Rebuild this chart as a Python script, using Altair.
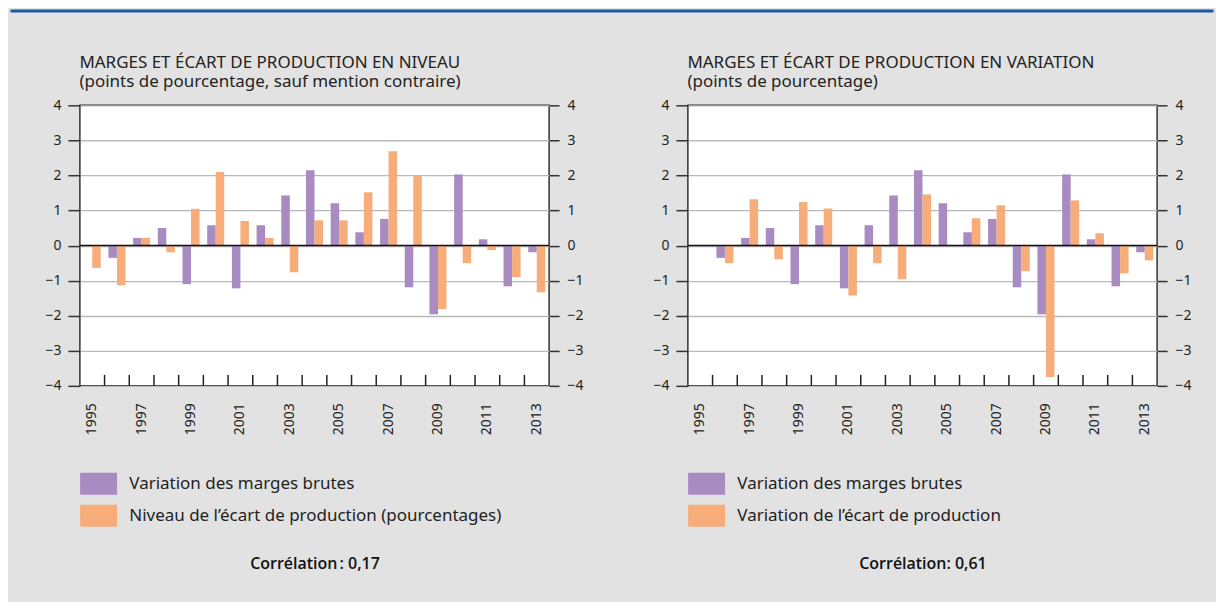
import altair as alt
import pandas as pd

# ---------------- data ----------------
years = [str(y) for y in range(1995, 2014)]
label_years = [str(y) for y in range(1995, 2014, 2)]

marges = [None, -0.35, 0.22, 0.50, -1.10, 0.58, -1.22, 0.58, 1.43, 2.15,
          1.21, 0.38, 0.76, -1.19, -1.96, 2.03, 0.18, -1.16, -0.19]
ecart_niveau = [-0.64, -1.13, 0.22, -0.19, 1.05, 2.10, 0.70, 0.22, -0.76, 0.72,
                0.72, 1.52, 2.69, 1.99, -1.81, -0.50, -0.13, -0.90, -1.33]
ecart_variation = [None, -0.50, 1.32, -0.39, 1.24, 1.06, -1.42, -0.50, -0.96, 1.46,
                   0.0, 0.78, 1.15, -0.73, -3.75, 1.29, 0.35, -0.79, -0.42]

S1 = "Variation des marges brutes"
S2_left = "Niveau de l\u2019écart de production (pourcentages)"
S2_right = "Variation de l\u2019écart de production"

title_left = ["MARGES ET ÉCART DE PRODUCTION EN NIVEAU",
              "(points de pourcentage, sauf mention contraire)"]
title_right = ["MARGES ET ÉCART DE PRODUCTION EN VARIATION",
               "(points de pourcentage)"]
corr_left = "Corrélation\u202f: 0,17"
corr_right = "Corrélation: 0,61"

y_ticks = [-4, -3, -2, -1, 0, 1, 2, 3, 4]

# ---------------- style ----------------
PURPLE = "#a88bc1"
ORANGE = "#f6ad7a"
BG = "#e2e2e2"
BLUE = "#1c5aa0"
INK = "#222222"
FONT = "Noto Sans"
W, H = 470, 281
CANVAS_W, CANVAS_H = 1208, 592
PLOT_LEFT, PLOT_TOP = 71, 96


def make_df(vals2, name2):
    rows = []
    for y, a, b in zip(years, marges, vals2):
        if a is not None:
            rows.append({"year": y, "series": S1, "value": a})
        if b is not None:
            rows.append({"year": y, "series": name2, "value": b})
    return pd.DataFrame(rows)


def panel(vals2, name2, title, corr, with_deco=False):
    df = make_df(vals2, name2)
    x_axis = alt.Axis(values=label_years, labelAngle=270, ticks=False, domain=False,
                      labelPadding=17, labelFontSize=14, labelColor=INK,
                      title=corr, titleX=235, titleY=183, titleAlign="center",
                      titleBaseline="alphabetic", titleFontSize=16, titleFont="Open Sans",
                      titleFontWeight=600, titleColor="#111")
    x_scale = alt.Scale(domain=years, paddingInner=0, paddingOuter=0)
    bars = alt.Chart(df).mark_bar().encode(
        x=alt.X("year:N", scale=x_scale, axis=x_axis),
        xOffset=alt.XOffset("series:N", scale=alt.Scale(domain=[S1, name2],
                                                        paddingInner=0, paddingOuter=0.45)),
        y=alt.Y("value:Q", scale=alt.Scale(domain=[-4, 4], nice=False, zero=False),
                axis=alt.Axis(orient="left", values=y_ticks, grid=True, gridColor="#b9b9b9",
                              gridWidth=1.3, domain=False, tickSize=12, tickWidth=1.5,
                              tickColor="#333", labelPadding=7, labelFontSize=14,
                              labelColor=INK, title=None)),
        color=alt.Color("series:N", scale=alt.Scale(domain=[S1, name2], range=[PURPLE, ORANGE]),
                        legend=alt.Legend(orient="none", legendX=7.75, legendY=368, title=None,
                                          symbolType="M-1.682,-1L1.682,-1L1.682,1L-1.682,1Z",
                                          symbolSize=484, symbolStrokeWidth=0, symbolOpacity=1,
                                          labelOffset=19.75, rowPadding=10, labelFontSize=17,
                                          labelColor=INK, labelLimit=500, padding=0)),
    )
    # zero line; its right-hand axis also carries the panel heading
    zero = alt.Chart(pd.DataFrame({"v": [0]})).mark_rule(color="#111", strokeWidth=1.5).encode(
        y=alt.Y("v:Q", scale=alt.Scale(domain=[-4, 4], nice=False, zero=False),
                axis=alt.Axis(orient="right", values=y_ticks, grid=False, domain=False,
                              tickSize=10, tickWidth=1.5, tickColor="#333", labelPadding=8,
                              labelFontSize=14, labelColor=INK,
                              title=title, titleAngle=0, titleAlign="left",
                              titleBaseline="alphabetic", titleX=-W - 1, titleY=-38,
                              titleFontSize=17, titleFontWeight="normal", titleColor=INK,
                              titleLineHeight=19))
    )
    xticks = alt.Chart(pd.DataFrame({"year": years[1:]})).mark_rule(
        color="#222", strokeWidth=1.5).encode(
        x=alt.X("year:N", bandPosition=0, scale=x_scale, axis=x_axis),
        y=alt.value(H), y2=alt.value(H - 11),
    )
    layers = [bars, xticks, zero]
    if with_deco:
        deco = alt.Chart(pd.DataFrame({"k": [0]})).mark_rule(
            color=BLUE, strokeWidth=3).encode(
            x=alt.value(-PLOT_LEFT + 1.5), x2=alt.value(CANVAS_W - PLOT_LEFT - 1.5),
            y=alt.value(-PLOT_TOP + 1.5))
        bottom = alt.Chart(pd.DataFrame({"k": [0]})).mark_rule(
            color=BG, strokeWidth=1, opacity=0).encode(
            x=alt.value(0), x2=alt.value(10), y=alt.value(CANVAS_H - PLOT_TOP - 0.5))
        layers += [deco, bottom]
    return alt.layer(*layers).resolve_scale(y="independent").properties(width=W, height=H)


left = panel(ecart_niveau, S2_left, title_left, corr_left, with_deco=True)
right = panel(ecart_variation, S2_right, title_right, corr_right)

chart = alt.hconcat(left, right, spacing=139, bounds="flush").resolve_scale(
    color="independent", x="independent", xOffset="independent"
).resolve_legend(color="independent").properties(
    background=BG, padding=0, autosize=alt.AutoSizeParams(type="pad")
).configure(font=FONT).configure_view(
    stroke="#333", strokeWidth=1.5, fill="white"
)

chart.save("out.html", embed_options={"renderer": "svg", "actions": False})
